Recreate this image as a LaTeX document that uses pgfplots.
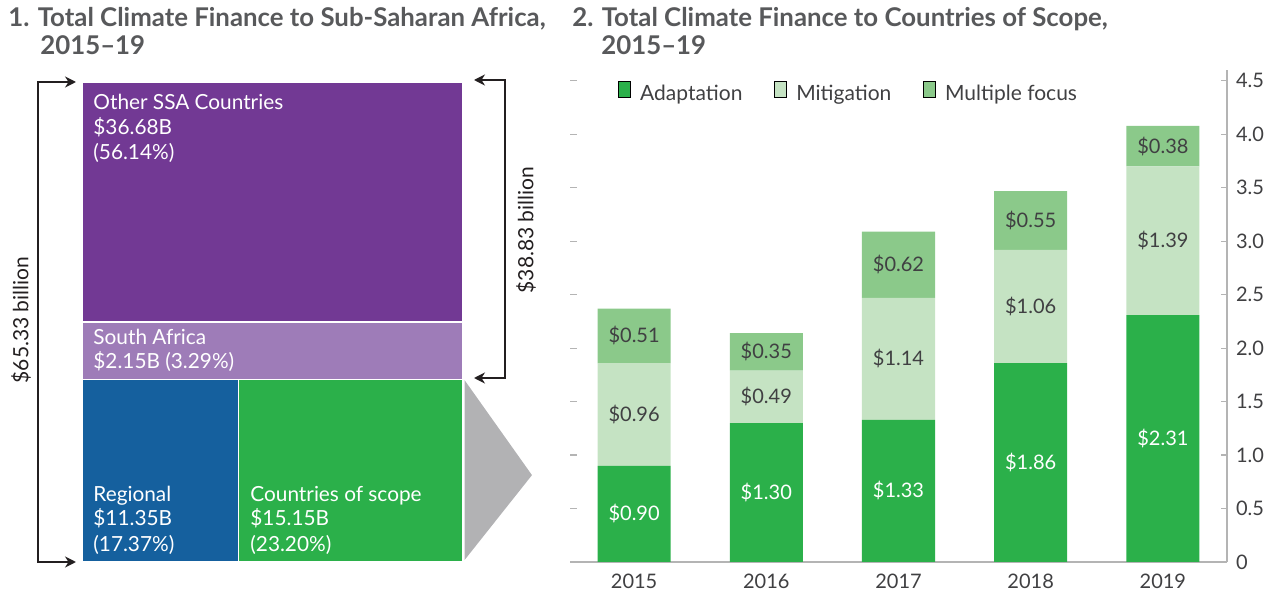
\documentclass[border=0pt]{standalone}
\usepackage{fontspec}
\setmainfont{Lato}
\usepackage{pgfplots}
\pgfplotsset{compat=1.18}
\usetikzlibrary{arrows.meta}

\definecolor{adapt}{RGB}{43,176,74}
\definecolor{mitig}{RGB}{197,227,195}
\definecolor{multi}{RGB}{139,201,138}
\definecolor{ssa}{RGB}{114,57,148}
\definecolor{southafr}{RGB}{158,124,184}
\definecolor{regional}{RGB}{21,96,158}
\definecolor{scope}{RGB}{43,176,74}
\definecolor{wedge}{RGB}{178,178,180}
\definecolor{titlegray}{RGB}{88,89,91}
\definecolor{txt}{RGB}{64,64,66}
\definecolor{axgray}{RGB}{180,180,180}
\definecolor{brk}{RGB}{35,31,32}

% climate finance by focus, billions USD
\pgfplotstableread{
x adapt mitig multi
0 0.90 0.96 0.51
1 1.30 0.49 0.35
2 1.33 1.14 0.62
3 1.86 1.06 0.55
4 2.31 1.39 0.38
}\finance

\tikzset{
  sq legend/.style={legend image code/.code={\fill[##1,draw=none] (0pt,-3.5pt) rectangle (7pt,3.5pt);}},
  lbl/.style={anchor=base west,inner sep=0pt,text=white,font=\fontsize{10.4}{12}\selectfont},
  ttl/.style={anchor=base west,inner sep=0pt,text=titlegray,font=\fontsize{12.9}{15}\selectfont\bfseries},
}
\newcommand{\segval}{\$\pgfmathprintnumber[fixed,fixed zerofill,precision=2,assume math mode=true]{\val}}

\begin{document}
\begin{tikzpicture}
\path[use as bounding box] (0,0) rectangle (635.5pt,295pt);

% ---- panel 1: treemap
\begin{axis}[at={(41pt,14pt)},anchor=south west,scale only axis,
  width=190.5pt,height=240pt,xmin=0,xmax=1,ymin=0,ymax=1,
  axis lines=none,clip=false]
\addplot[fill=ssa,draw=white,line width=0.6pt] coordinates {(0,0.5) (1,0.5) (1,1) (0,1)} -- cycle;
\addplot[fill=southafr,draw=white,line width=0.6pt] coordinates {(0,0.381) (1,0.381) (1,0.5) (0,0.5)} -- cycle;
\addplot[fill=regional,draw=white,line width=0.6pt] coordinates {(0,0) (0.41,0) (0.41,0.381) (0,0.381)} -- cycle;
\addplot[fill=scope,draw=white,line width=0.6pt] coordinates {(0.41,0) (1,0) (1,0.381) (0.41,0.381)} -- cycle;
\addplot[fill=wedge,draw=none] coordinates {(1.004,0.379) (1.181,0.181) (1.004,0.004)} -- cycle;
\end{axis}

% ---- panel 2: stacked bars
\begin{axis}[at={(285pt,14pt)},anchor=south west,scale only axis,
  width=328.5pt,height=245.9pt,
  xmin=-0.485,xmax=4.485,ymin=0,ymax=4.6,
  ybar stacked,bar width=0.553,
  axis x line*=bottom,axis y line*=right,
  x axis line style={axgray,line width=0.8pt,-},
  y axis line style={axgray,line width=0.8pt,-},
  xtick={0,...,4},xticklabels={2015,2016,2017,2018,2019},
  major x tick style={draw=none},
  extra x ticks={0.5,1.5,2.5,3.5},extra x tick labels={},
  extra x tick style={major x tick style={axgray,line width=0.6pt},major tick length=4pt},
  ytick={0,0.5,...,4.5},
  yticklabels={0,0.5,1.0,1.5,2.0,2.5,3.0,3.5,4.0,4.5},
  tick align=inside,major tick length=3pt,
  y tick style={axgray,line width=0.6pt},
  ticklabel style={text=txt,font=\fontsize{10}{12}\selectfont},
  yticklabel style={xshift=1pt},
  xticklabel style={yshift=-2.5pt},
  legend style={at={(0.064,0.952)},anchor=west,draw=none,fill=none,
    legend columns=3,text=txt,font=\fontsize{10.5}{12}\selectfont,
    /tikz/every odd column/.append style={column sep=2.5pt},
    /tikz/every even column/.append style={column sep=14pt}},
  legend cell align=left,
  visualization depends on={rawy \as \val},
  every node near coord/.style={anchor=center,font=\fontsize{10}{12}\selectfont},
]
\addplot[fill=adapt,draw=none,sq legend,nodes near coords={\textcolor{white}{\segval}}]
  table[x=x,y=adapt]{\finance};
\addplot[fill=mitig,draw=none,sq legend,nodes near coords={\textcolor{txt}{\segval}}]
  table[x=x,y=mitig]{\finance};
\addplot[fill=multi,draw=none,sq legend,nodes near coords={\textcolor{txt}{\segval}}]
  table[x=x,y=multi]{\finance};
\legend{Adaptation,Mitigation,Multiple focus}
\end{axis}

% left-hand tick marks without labels
\begin{axis}[at={(285pt,14pt)},anchor=south west,scale only axis,
  width=328.5pt,height=245.9pt,xmin=0,xmax=1,ymin=0,ymax=4.6,
  axis x line=none,axis y line*=left,y axis line style={draw=none},
  ytick={0.5,1,...,4.5},yticklabels={},tick align=inside,
  major tick length=3.5pt,y tick style={axgray,line width=0.6pt}]
\end{axis}

% ---- annotations, in pixel units from the top left
\begin{scope}[x=0.5pt,y=-0.5pt,shift={(0pt,295pt)}]
\node[ttl] at (8,27) {1. Total Climate Finance to Sub-Saharan Africa,};
\node[ttl] at (40,55) {2015–19};
\node[ttl] at (572,27) {2. Total Climate Finance to Countries of Scope,};
\node[ttl] at (601,55) {2015–19};

\node[lbl] at (93,110) {Other SSA Countries};
\node[lbl] at (93,135) {\$36.68B};
\node[lbl] at (93,160) {(56.14\%)};
\node[lbl] at (93,345) {South Africa};
\node[lbl] at (93,369) {\$2.15B (3.29\%)};
\node[lbl] at (93,501) {Regional};
\node[lbl] at (93,526) {\$11.35B};
\node[lbl] at (93,551) {(17.37\%)};
\node[lbl] at (250,501) {Countries of scope};
\node[lbl] at (250,526) {\$15.15B};
\node[lbl] at (250,551) {(23.20\%)};

\draw[brk,line width=1pt,{Stealth[length=5.5pt,width=5.5pt]}-{Stealth[length=5.5pt,width=5.5pt]}]
  (76,82) -- (38,82) -- (38,562) -- (76,562);
\draw[brk,line width=1pt,{Stealth[length=5.5pt,width=5.5pt]}-{Stealth[length=5.5pt,width=5.5pt]}]
  (474,80) -- (505,80) -- (505,378) -- (474,378);
\node[rotate=90,text=brk,font=\fontsize{10.5}{12}\selectfont] at (21,320) {\$65.33 billion};
\node[rotate=90,text=brk,font=\fontsize{10.5}{12}\selectfont] at (526,230) {\$38.83 billion};
\end{scope}
\end{tikzpicture}
\end{document}
